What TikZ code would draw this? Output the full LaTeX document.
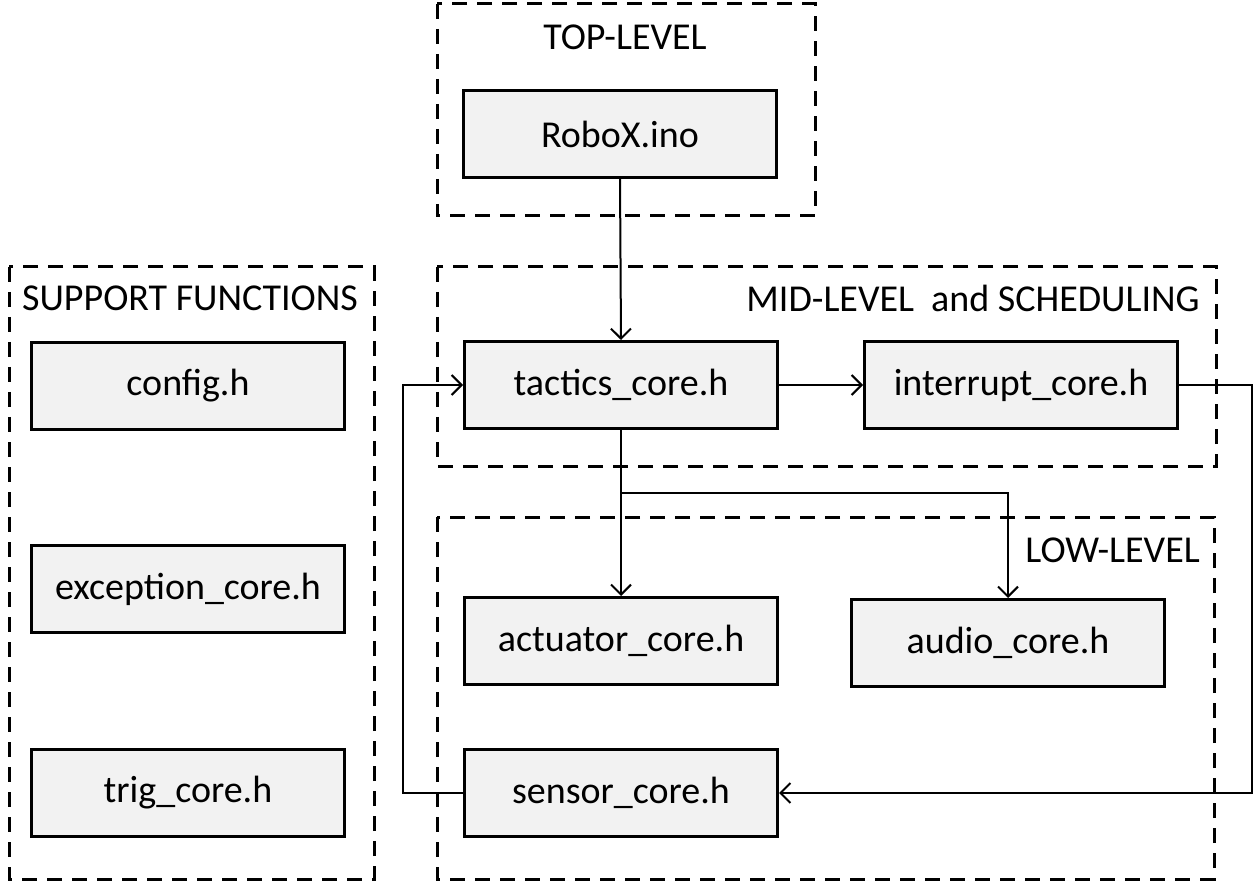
\documentclass[tikz,border=0pt]{standalone}
\usepackage{fontspec}
\setmainfont{Carlito}
\usetikzlibrary{arrows.meta}
\definecolor{boxfill}{HTML}{F2F2F2}
\tikzset{
  filebox/.style={draw=black, line width=3pt, fill=boxfill, minimum width=313pt, minimum height=87pt, inner sep=0pt, font=\fontsize{38}{46}\selectfont},
  group/.style={draw=black, line width=3pt, dash pattern=on 15pt off 10pt},
  grouplabel/.style={font=\fontsize{38}{46}\selectfont, inner sep=0pt},
  conn/.style={line width=2pt, -{Straight Barb[length=10pt,width=20pt,line width=2pt]}},
}
\begin{document}
\begin{tikzpicture}[x=1pt,y=-1pt]
\useasboundingbox (0,0) rectangle (1253,882);
% groups
\draw[group] (437,4) rectangle (815,216);
\node[grouplabel] (ltop) at (625,37) {TOP-LEVEL};
\draw[group] (9,267) rectangle (374,879);
\node[grouplabel] (lsup) at (190,298) {SUPPORT FUNCTIONS};
\draw[group] (437,267) rectangle (1216,466);
\node[grouplabel, anchor=east] (lmid) at (1200,298) {MID-LEVEL\ \ and SCHEDULING};
\draw[group] (437,517) rectangle (1214,879);
\node[grouplabel, anchor=east] (llow) at (1200,550) {LOW-LEVEL};
% boxes
\node[filebox] (robox) at (620,134) {RoboX.ino};
\node[filebox] (config) at (188,386) {config.h};
\node[filebox] (exception) at (188,589) {exception\_core.h};
\node[filebox] (trig) at (188,793) {trig\_core.h};
\node[filebox] (tactics) at (621,385) {tactics\_core.h};
\node[filebox] (interrupt) at (1021,385) {interrupt\_core.h};
\node[filebox] (actuator) at (621,641) {actuator\_core.h};
\node[filebox] (audio) at (1008,643) {audio\_core.h};
\node[filebox] (sensor) at (621,793) {sensor\_core.h};
% connectors
\draw[conn] (robox.south) -- (tactics.north);
\draw[conn] (tactics.east) -- (interrupt.west);
\draw[conn] (tactics.south) -- (actuator.north);
\coordinate (split) at (tactics.south |- 0,493);
\draw[conn] (split) -| (audio.north);
\draw[conn] (interrupt.east) -- ++(73,0) |- (sensor.east);
\draw[conn] (sensor.west) -- ++(-60,0) |- (tactics.west);
\end{tikzpicture}
\end{document}
